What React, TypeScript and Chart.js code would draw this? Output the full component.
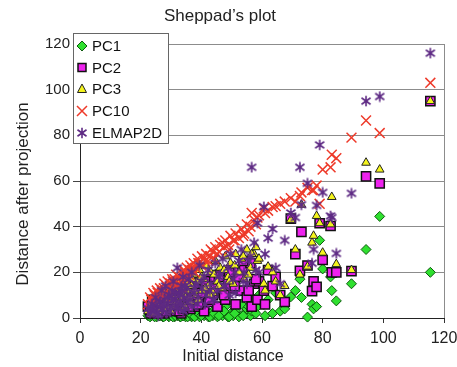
import { useEffect, useRef } from "react";
import { Chart, registerables } from "chart.js";

Chart.register(...registerables);

const FONT = "'Liberation Sans', Arial, sans-serif";

const chartTitle = "Sheppad’s plot";
const xTitle = "Initial distance";
const yTitle = "Distance after projection";
const seriesNames = ["PC1", "PC2", "PC3", "PC10", "ELMAP2D"];
const xTickMin = 0;
const xTickMax = 120;
const yTickMin = 0;
const yTickMax = 120;
const tickStep = 20;

// initial distance of each pair (shared by all series)
const initialDistance = [
  22.4, 23.1, 23.8, 24.2, 24.9, 25.3, 25.8, 26.4, 26.9, 27.3, 27.8, 28.2, 28.9, 29.3, 29.7,
  30.4, 30.8, 31.2, 31.7, 32.1, 32.6, 33.0, 33.4, 33.9, 34.3, 34.8, 35.2, 35.9, 36.4, 36.8,
  37.5, 38.1, 38.7, 39.4, 40.2, 40.9, 41.6, 42.3, 43.1, 43.8, 44.6, 45.3, 46.2, 47.0, 47.9,
  48.8, 49.6, 50.5, 51.3, 52.4, 53.2, 54.1, 55.0, 56.2, 57.4,
  56.6, 58.5, 59.0, 60.6, 61.0, 62.0, 63.5, 64.5, 66.0, 67.5, 69.5, 71.0, 72.5, 73.0, 75.0,
  76.5, 77.0, 78.0, 79.0, 80.0, 82.6, 83.0, 84.5, 89.5, 94.3, 98.8, 115.5,
  23.5, 24.6, 25.6, 26.2, 27.0, 27.6, 28.5, 29.0, 30.0, 30.6, 31.4, 32.3, 32.8, 33.2, 33.6,
  34.0, 34.6, 35.5, 36.1, 37.0, 37.8, 39.0, 40.0, 41.2, 42.8, 44.2, 45.8, 47.5, 49.2, 51.0,
  53.8, 55.6, 58.0,
];
const pc1 = [
  1, 0.5, 2, 1, 3, 0.5, 2, 1, 4, 0.5, 2, 1, 3, 0.5, 2,
  1, 4, 0.5, 2, 1, 3, 0.5, 2, 1, 4, 0.5, 2, 1, 3, 0.5,
  2, 1, 4, 0.5, 2, 1, 3, 0.5, 2, 1, 4, 0.5, 2, 1, 5,
  0.5, 2, 1, 3, 0.5, 6, 2, 4, 1, 3,
  3, 5, 10, 6, 1, 8, 2, 11, 3, 4, 9.3, 12, 17, 9, 0.4,
  6, 4, 5, 34, 21.5, 18, 12, 7.5, 15, 30, 44.5, 20,
  1, 0.5, 2, 1, 3, 0.5, 2, 1, 2, 0.5, 1, 3, 1, 0.5, 2,
  1, 3, 0.5, 2, 1, 0.5, 2, 1, 4, 0.5, 2, 1, 3, 0.5, 2,
  1, 5, 2,
];
const pc2 = [
  5, 3, 8, 2, 6, 4, 9, 3, 6, 11, 2, 7, 5, 9, 4,
  12, 6, 3, 8, 10, 5, 13, 2, 9, 7, 14, 6, 11, 4, 16,
  8, 12, 5, 15, 9, 3, 13, 7, 17, 10, 14, 5, 19, 11, 8,
  16, 13, 21, 6, 18, 12, 22, 9, 24, 15,
  5, 8, 16, 12, 6, 21, 14, 18, 10, 7, 43.5, 28, 20.7, 37.7, 23,
  11.8, 16, 13.6, 41.5, 25.4, 40.3, 20, 20, 20.5, 62, 59, 95,
  2, 5, 7, 2, 4, 8, 3, 6, 10, 4, 7, 12, 3, 6, 10,
  4, 8, 12, 5, 9, 14, 6, 11, 16, 8, 13, 18, 10, 20, 14,
  25, 12, 17,
];
const pc3 = [
  3, 5, 2, 6, 4, 7, 3, 9, 5, 8, 11, 6, 4, 12, 7,
  9, 14, 5, 10, 13, 8, 16, 6, 11, 15, 9, 18, 12, 7, 14,
  19, 10, 16, 21, 12, 17, 23, 14, 20, 11, 25, 16, 22, 13, 27,
  18, 24, 15, 28, 20, 26, 17, 30, 22, 28,
  28, 25, 26, 15, 12, 22.5, 20, 16, 10, 14, 43, 30, 19, 49.6, 22.5,
  33, 36, 44.7, 41.5, 28.6, 41, 53, 23.6, 21, 68, 65, 95,
  4, 2, 6, 3, 10, 4, 8, 10, 3, 12, 6, 11, 7, 14, 9,
  13, 5, 15, 9, 17, 12, 8, 18, 13, 10, 19, 14, 21, 16, 23,
  27, 19, 31,
];
const pc10 = [
  6, 9, 4, 11, 8, 12, 7, 13, 10, 12, 15, 9, 16, 13, 15,
  17, 12, 17, 19, 14, 18, 16, 20, 15, 21, 17, 22, 19, 23, 21,
  24, 22, 26, 24, 27, 26, 28, 25, 30, 29, 31, 28, 32, 33, 34,
  32, 36, 34, 37, 35, 39, 37, 41, 40, 43,
  46, 44, 45, 48, 46, 47, 48.6, 49, 50, 51, 52.5, 51, 53.4, 55, 57,
  56, 56, 58, 50, 65, 66, 71.5, 70, 79, 86.5, 81, 103,
  8, 10, 11, 9, 12, 13, 14, 11, 15, 16, 14, 15, 14, 16, 13,
  15, 20, 18, 21, 22, 20, 24, 23, 25, 27, 26, 29, 31, 30, 34,
  36, 38, 41,
];
const elmap2d = [
  4, 2, 6, 3, 9, 5, 1, 7, 12, 4, 8, 14, 6, 10, 3,
  12, 16, 8, 5, 22, 11, 7, 14, 18, 9, 4, 13, 17, 8, 20,
  11, 15, 6, 23, 13, 18, 10, 21, 15, 8, 24, 12, 19, 26, 14,
  22, 28, 17, 11, 25, 30, 20, 15, 27, 33,
  66, 41.6, 20, 48.7, 28, 35, 39, 22, 15, 34, 46, 44, 66, 49.6, 59,
  24, 30, 49.3, 75.8, 55, 44.7, 44, 28.3, 54.6, 95, 97, 116,
  5, 3, 2, 7, 4, 6, 2, 9, 5, 8, 11, 4, 10, 6, 12,
  3, 14, 7, 10, 5, 13, 9, 16, 6, 12, 8, 18, 14, 10, 20,
  16, 25, 21,
];

const seriesValues = [pc1, pc2, pc3, pc10, elmap2d];

const GREEN = "#2fe02f";
const GREEN_EDGE = "#0d5a0d";
const MAGENTA = "#ee22ee";
const YELLOW = "#f4f41c";
const RED = "#ee3a2a";
const PURPLE = "#5e2a84";

function makeAsterisk(size: number, color: string, lw: number) {
  const c = document.createElement("canvas");
  c.width = size;
  c.height = size;
  const g = c.getContext("2d")!;
  g.strokeStyle = color;
  g.lineWidth = lw;
  const m = size / 2;
  const r = size / 2 - 0.8;
  g.beginPath();
  g.moveTo(m, m - r);
  g.lineTo(m, m + r);
  const dx = r * 0.87;
  const dy = r * 0.62;
  g.moveTo(m - dx, m - dy);
  g.lineTo(m + dx, m + dy);
  g.moveTo(m + dx, m - dy);
  g.lineTo(m - dx, m + dy);
  g.stroke();
  return c;
}

function drawMarker(ctx: CanvasRenderingContext2D, kind: number, x: number, y: number, star: HTMLCanvasElement) {
  ctx.save();
  if (kind === 0) {
    ctx.beginPath();
    ctx.moveTo(x, y - 5);
    ctx.lineTo(x + 5, y);
    ctx.lineTo(x, y + 5);
    ctx.lineTo(x - 5, y);
    ctx.closePath();
    ctx.fillStyle = GREEN;
    ctx.fill();
    ctx.strokeStyle = GREEN_EDGE;
    ctx.lineWidth = 1;
    ctx.stroke();
  } else if (kind === 1) {
    ctx.fillStyle = MAGENTA;
    ctx.fillRect(x - 4, y - 4, 8, 8);
    ctx.strokeStyle = "#111";
    ctx.lineWidth = 1.5;
    ctx.strokeRect(x - 4, y - 4, 8, 8);
  } else if (kind === 2) {
    ctx.beginPath();
    ctx.moveTo(x, y - 5);
    ctx.lineTo(x + 4.5, y + 3.5);
    ctx.lineTo(x - 4.5, y + 3.5);
    ctx.closePath();
    ctx.fillStyle = YELLOW;
    ctx.fill();
    ctx.strokeStyle = "#222";
    ctx.lineWidth = 1;
    ctx.stroke();
  } else if (kind === 3) {
    ctx.beginPath();
    ctx.moveTo(x - 5, y - 5);
    ctx.lineTo(x + 5, y + 5);
    ctx.moveTo(x + 5, y - 5);
    ctx.lineTo(x - 5, y + 5);
    ctx.strokeStyle = RED;
    ctx.lineWidth = 1.5;
    ctx.stroke();
  } else {
    ctx.drawImage(star, x - star.width / 2, y - star.height / 2);
  }
  ctx.restore();
}

export default function App() {
  const ref = useRef<HTMLCanvasElement | null>(null);

  useEffect(() => {
    if (!ref.current) return;
    const star = makeAsterisk(12, PURPLE, 1.6);

    const points = (ys: number[]) => initialDistance.map((x, i) => ({ x, y: ys[i] }));

    const decor = {
      id: "decor",
      beforeDatasetsDraw(chart: any) {
        const { ctx, chartArea } = chart;
        ctx.save();
        ctx.strokeStyle = "#8c8c8c";
        ctx.lineWidth = 1;
        ctx.beginPath();
        ctx.moveTo(Math.round(chartArea.right) + 0.5, chartArea.top);
        ctx.lineTo(Math.round(chartArea.right) + 0.5, chartArea.bottom);
        ctx.stroke();
        ctx.restore();
      },
      afterDraw(chart: any) {
        const { ctx } = chart;
        ctx.save();
        ctx.fillStyle = "#222";
        ctx.textAlign = "center";
        ctx.textBaseline = "alphabetic";
        ctx.font = `17px ${FONT}`;
        ctx.fillText(chartTitle, 220, 21);
        ctx.font = `16px ${FONT}`;
        ctx.fillText(xTitle, 233, 361);
        ctx.save();
        ctx.font = `17px ${FONT}`;
        ctx.translate(28, 194);
        ctx.rotate(-Math.PI / 2);
        ctx.fillText(yTitle, 0, 0);
        ctx.restore();

        // legend
        ctx.fillStyle = "#fff";
        ctx.fillRect(73, 33, 96, 110);
        ctx.strokeStyle = "#666";
        ctx.lineWidth = 1;
        ctx.strokeRect(73.5, 33.5, 95, 110);
        const ys = [46, 67.5, 89, 111, 133];
        ctx.font = `15px ${FONT}`;
        ctx.textAlign = "left";
        ctx.textBaseline = "middle";
        seriesNames.forEach((name, i) => {
          drawMarker(ctx, i, 82, ys[i], star);
          ctx.fillStyle = "#111";
          ctx.fillText(name, 92, ys[i] + 1);
        });
        ctx.restore();
      },
    };

    const chart = new Chart(ref.current, {
      type: "scatter",
      data: {
        datasets: [
          {
            label: seriesNames[0],
            data: points(seriesValues[0]),
            pointStyle: "rectRot",
            pointRadius: 5,
            backgroundColor: GREEN,
            borderColor: GREEN_EDGE,
            borderWidth: 1,
            order: 5,
            clip: false,
          },
          {
            label: seriesNames[1],
            data: points(seriesValues[1]),
            pointStyle: "rect",
            pointRadius: 6.5,
            backgroundColor: MAGENTA,
            borderColor: "#111",
            borderWidth: 1.5,
            order: 4,
            clip: false,
          },
          {
            label: seriesNames[2],
            data: points(seriesValues[2]),
            pointStyle: "triangle",
            pointRadius: 5,
            backgroundColor: YELLOW,
            borderColor: "#222",
            borderWidth: 1,
            order: 3,
            clip: false,
          },
          {
            label: seriesNames[3],
            data: points(seriesValues[3]),
            pointStyle: "crossRot",
            pointRadius: 7,
            backgroundColor: RED,
            borderColor: RED,
            borderWidth: 1.5,
            order: 2,
            clip: false,
          },
          {
            label: seriesNames[4],
            data: points(seriesValues[4]),
            pointStyle: star as any,
            pointRadius: 6,
            backgroundColor: PURPLE,
            borderColor: PURPLE,
            borderWidth: 1.5,
            order: 1,
            clip: false,
          },
        ],
      },
      options: {
        animation: false,
        responsive: false,
        devicePixelRatio: 1,
        layout: { padding: { left: 0, right: 26, top: 44, bottom: 0 } },
        plugins: {
          legend: { display: false },
          title: { display: false },
          tooltip: { enabled: false },
        },
        scales: {
          x: {
            type: "linear",
            min: xTickMin,
            max: xTickMax,
            ticks: { stepSize: tickStep, color: "#222", font: { family: FONT, size: 16 }, padding: 6 },
            grid: { drawOnChartArea: false, drawTicks: true, tickLength: 5, color: "#333" },
            border: { color: "#222", width: 1 },
            afterFit: (s: any) => {
              s.height = 49;
            },
          },
          y: {
            type: "linear",
            min: yTickMin,
            max: yTickMax,
            ticks: { stepSize: tickStep, color: "#222", font: { family: FONT, size: 15 }, padding: 3 },
            grid: { color: "#8c8c8c", tickColor: "#444", drawTicks: true, tickLength: 7 },
            border: { color: "#222", width: 1 },
            afterFit: (s: any) => {
              s.width = 80;
            },
          },
        },
      },
      plugins: [decor],
    });
    return () => chart.destroy();
  }, []);

  return (
    <div style={{ position: "fixed", left: 0, top: 0, width: 457, height: 367, overflow: "hidden", background: "#fff" }}>
      <canvas ref={ref} width={470} height={367} style={{ width: 470, height: 367, display: "block" }} />
    </div>
  );
}
